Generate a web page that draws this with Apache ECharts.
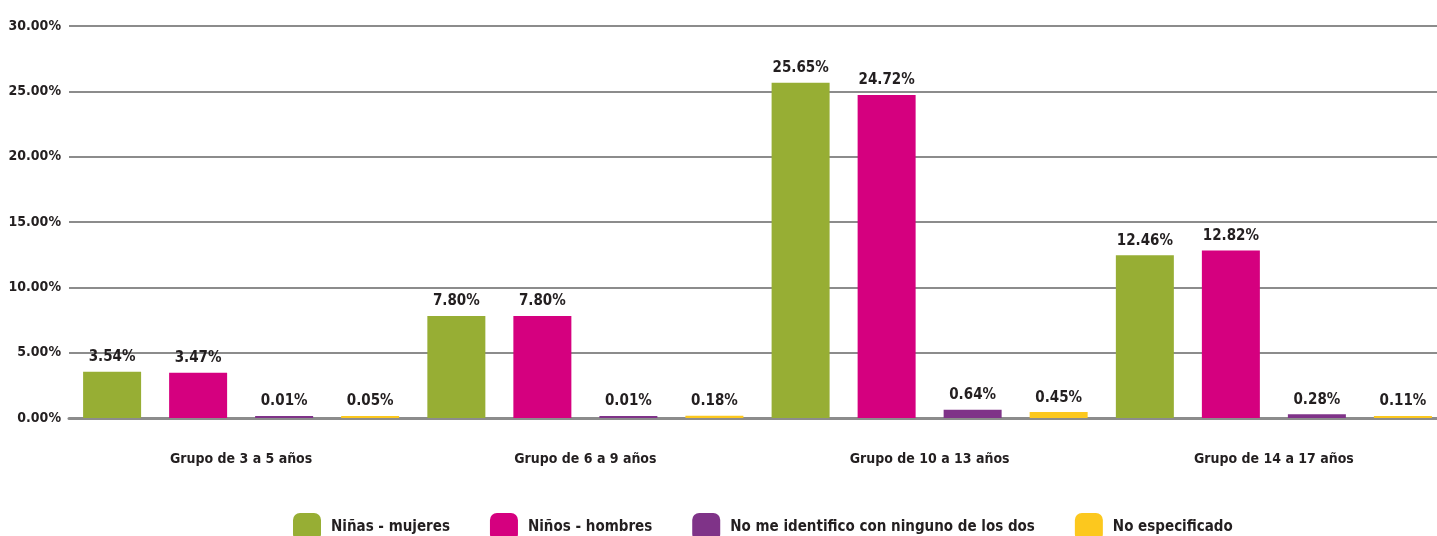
<!DOCTYPE html>
<html><head><meta charset="utf-8">
<script src="https://cdn.jsdelivr.net/npm/echarts@6/dist/echarts.min.js"></script>
<style>html,body{margin:0;padding:0;background:#fff;overflow:hidden}#c{width:1446px;height:536px}</style>
</head><body><div id="c"></div>
<script>
const categories = ['Grupo de 3 a 5 años', 'Grupo de 6 a 9 años', 'Grupo de 10 a 13 años', 'Grupo de 14 a 17 años'];
const seriesNames = ['Niñas - mujeres', 'Niños - hombres', 'No me identifico con ninguno de los dos', 'No especificado'];
const ninas = [3.54, 7.80, 25.65, 12.46];
const ninos = [3.47, 7.80, 24.72, 12.82];
const noIdentifico = [0.01, 0.01, 0.64, 0.28];
const noEspecificado = [0.05, 0.18, 0.45, 0.11];
const colors = ['#97AE34', '#D5007F', '#7F3388', '#FCC81E'];

const FONT = '"Liberation Sans Narrow", "DejaVu Sans Condensed", "Roboto Condensed", sans-serif';
const textColor = '#231F20';
const values = [ninas, ninos, noIdentifico, noEspecificado];

const chart = echarts.init(document.getElementById('c'), null, {renderer: 'canvas'});
chart.setOption({
  animation: false,
  textStyle: {fontFamily: FONT},
  grid: {left: 69, right: 0, top: 26, bottom: 118, containLabel: false},
  legend: {
    left: 288, top: 508,
    itemWidth: 28, itemHeight: 28, itemGap: 40,
    icon: 'roundRect',
    textStyle: {fontFamily: FONT, fontWeight: 'bold', fontSize: 15, color: textColor, padding: [0, 0, 0, 5]},
    data: seriesNames
  },
  xAxis: {
    type: 'category', data: categories,
    axisLine: {show: true, lineStyle: {color: '#8C8C8C', width: 3}},
    axisTick: {show: false},
    axisLabel: {fontFamily: FONT, fontWeight: 'bold', fontSize: 14, color: textColor, margin: 34}
  },
  yAxis: {
    type: 'value', min: 0, max: 30, interval: 5,
    axisLine: {show: false}, axisTick: {show: false},
    splitLine: {lineStyle: {color: '#8C8C8C', width: 2}},
    axisLabel: {fontFamily: FONT, fontWeight: 'bold', fontSize: 14, color: textColor, margin: 8,
      formatter: v => v.toFixed(2) + '%'}
  },
  series: seriesNames.map((n, i) => ({
    name: n, type: 'bar', data: values[i],
    barWidth: 58, barGap: '48.3%', barMinHeight: 2,
    itemStyle: {color: colors[i]},
    label: {show: true, position: 'top', distance: 7,
      fontFamily: FONT, fontWeight: 'bold', fontSize: 15, color: textColor,
      formatter: p => p.value.toFixed(2) + '%'}
  }))
});
</script></body></html>
